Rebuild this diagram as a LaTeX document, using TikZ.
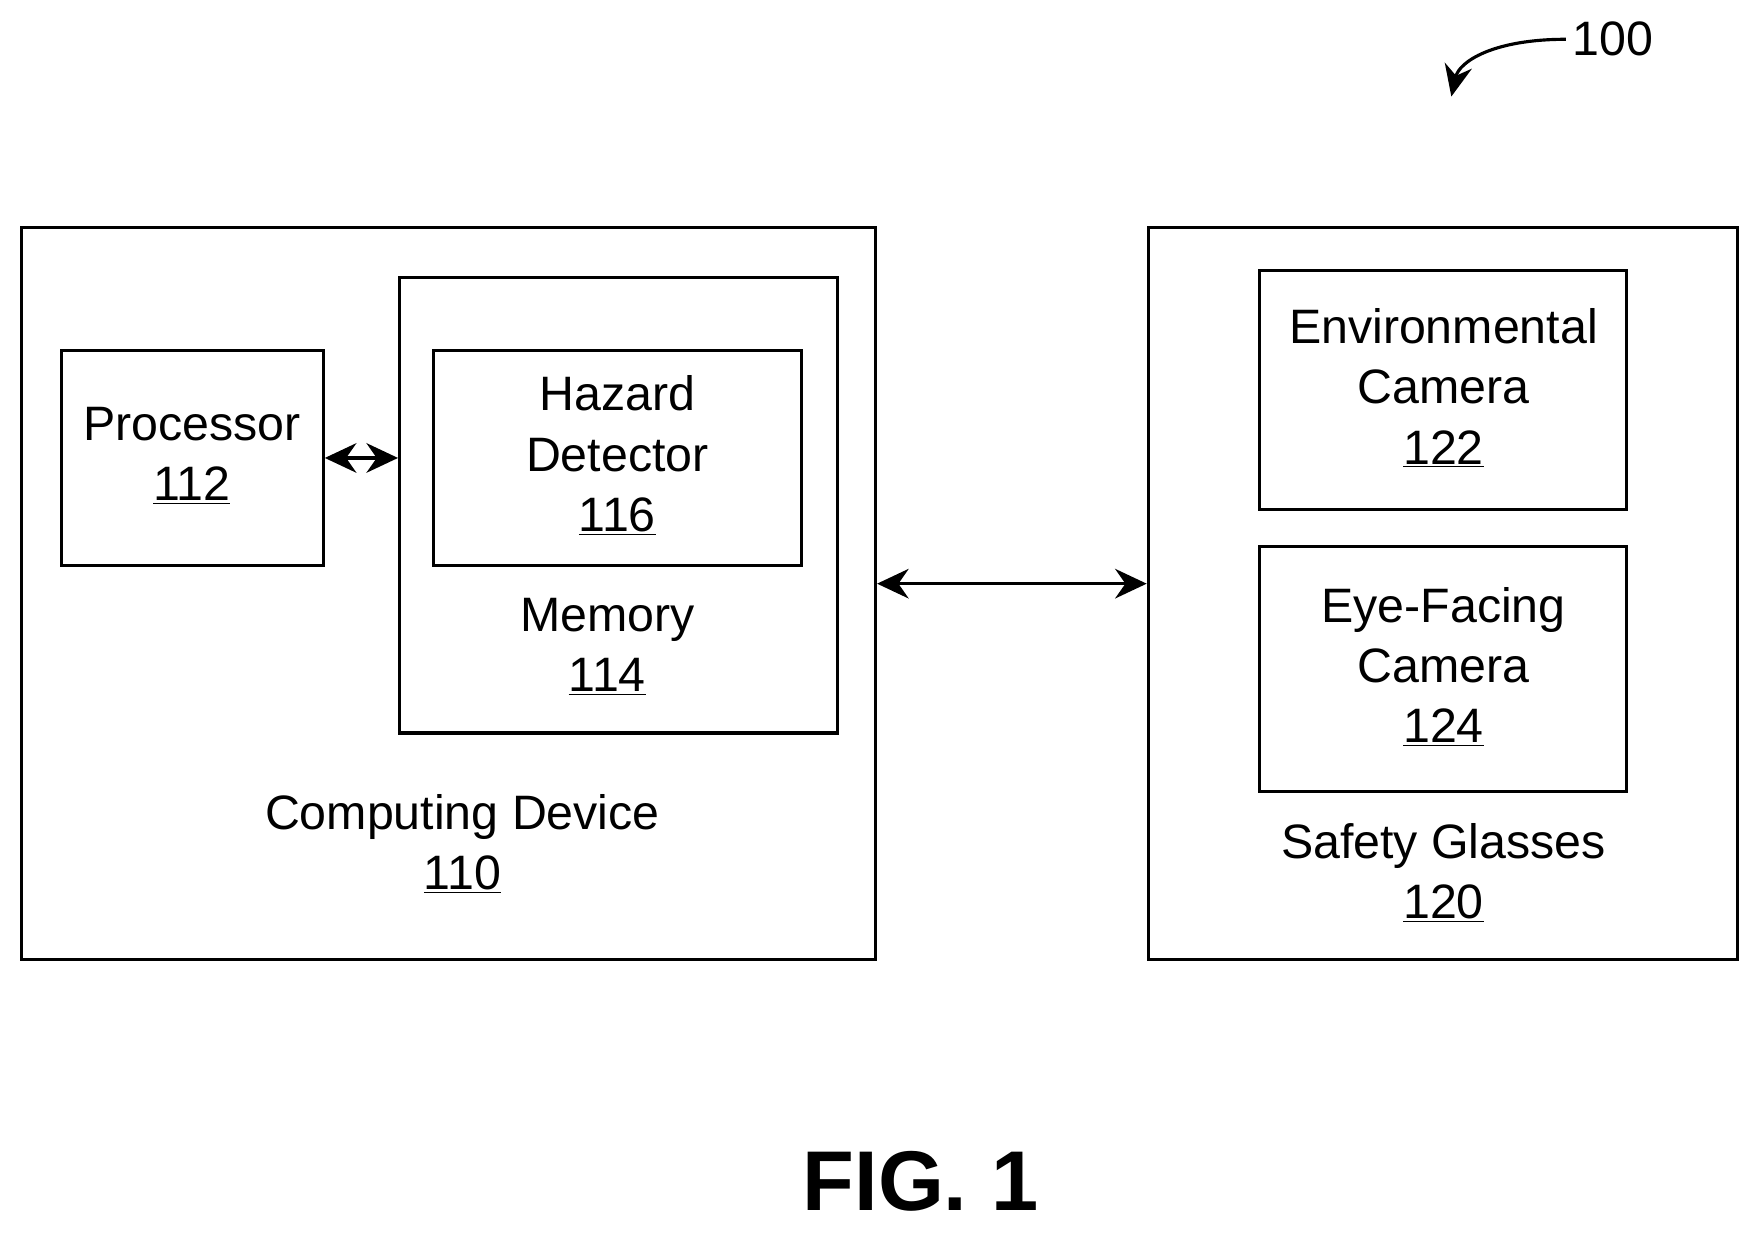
\documentclass[tikz,border=0pt]{standalone}
\usepackage{fontspec}
\setmainfont{Liberation Sans}
\usetikzlibrary{arrows.meta}
\tikzset{
  box/.style 2 args={draw,line width=1.6pt,minimum width=#1*0.02cm,minimum height=#2*0.02cm,inner sep=0pt},
  lbl/.style={align=center,font=\fontsize{24.5}{30.5}\selectfont},
  link/.style={line width=1.6pt,{Stealth[length=16pt,width=15pt]}-{Stealth[length=16pt,width=15pt]}}
}
\begin{document}
\begin{tikzpicture}[x=0.02cm,y=-0.02cm]
\useasboundingbox (0,0) rectangle (1568,1098);
% outer boxes
\node[box={761}{652}] (cd) at (399.5,529) {};
\node[box={525}{652}] (sg) at (1285.5,529) {};
% inner boxes
\node[box={233}{192}] (proc) at (171.5,408) {};
\node[box={390}{406}] (mem) at (551,450) {};
\node[box={328}{192}] (haz) at (550,408) {};
\node[box={327}{213}] (env) at (1285.5,347.5) {};
\node[box={327}{218}] (eye) at (1285.5,596) {};
% texts
\node[lbl] (cdt) at (412,752) {Computing Device\\\underline{110}};
\node[lbl] (sgt) at (1286,778) {Safety Glasses\\\underline{120}};
\node[lbl] (proct) at (171,406) {Processor\\\underline{112}};
\node[lbl] (memt) at (541,576) {Memory\\\underline{114}};
\node[lbl] (hazt) at (550,406) {Hazard\\Detector\\\underline{116}};
\node[lbl] (envt) at (1286,346) {Environmental\\Camera\\\underline{122}};
\node[lbl] (eyet) at (1286,594) {Eye-Facing\\Camera\\\underline{124}};
% connectors
\draw[link] (proc.east) -- (proc.east -| mem.west);
\draw[link] (cd.east |- 0,520) -- (sg.west |- 0,520);
% reference number
\node[lbl,anchor=west] (ref) at (1395,35) {100};
\coordinate (tip) at (1293,86);
\draw[line width=1.6pt,-{Stealth[length=16pt,width=14pt]}] (ref.west) .. controls (1330,35) and (1300,55) .. (tip);
\node[font=\bfseries\fontsize{43}{50}\selectfont] (fig) at (820,1052) {FIG. 1};
\end{tikzpicture}
\end{document}
